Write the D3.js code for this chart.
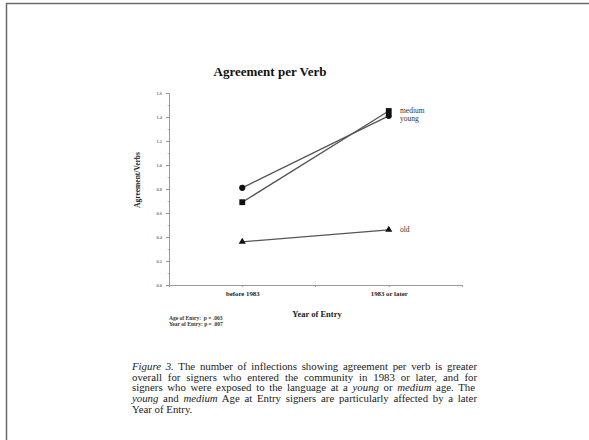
<!DOCTYPE html>
<html><head><meta charset="utf-8">
<script src="https://cdn.jsdelivr.net/npm/d3@7"></script>
<style>html,body{margin:0;padding:0;background:#fff;}svg{display:block;}</style>
</head><body>
<svg id="c" width="589" height="440"></svg>
<script>
const categories = ["before 1983", "1983 or later"];
const seriesNames = ["young", "medium", "old"];
const young = [0.81, 1.41];
const medium = [0.69, 1.45];
const old = [0.36, 0.46];
const yTicks = [0, 0.2, 0.4, 0.6, 0.8, 1.0, 1.2, 1.4, 1.6];
const statLines = ["Age of Entry:  p = .003", "Year of Entry: p = .007"];
const captionLines = [
  [["Figure 3.", true], [" The number of inflections showing agreement per verb is greater", false]],
  [["overall for signers who entered the community in 1983 or later, and for", false]],
  [["signers who were exposed to the language at a ", false], ["young", true], [" or ", false], ["medium", true], [" age.  The", false]],
  [["young", true], [" and ", false], ["medium", true], [" Age at Entry signers are particularly affected by a later", false]],
  [["Year of Entry.", false]]
];

const svg = d3.select("#c");
const serif = "'Liberation Serif', 'Times New Roman', serif";

// page border
svg.append("line").attr("x1", 6).attr("y1", 3.5).attr("x2", 589).attr("y2", 3.5).attr("stroke", "#6a6a6a").attr("stroke-width", 1.5);
svg.append("line").attr("x1", 6.5).attr("y1", 3).attr("x2", 6.5).attr("y2", 440).attr("stroke", "#6a6a6a").attr("stroke-width", 1.5);

const x = d3.scalePoint().domain(categories).range([169, 462]).padding(0.5);
const y = d3.scaleLinear().domain([0, 1.6]).range([285, 93]);

// axes
const ya = svg.append("g").attr("transform", "translate(169,0)")
  .call(d3.axisLeft(y).tickValues(yTicks).tickFormat(d3.format(".1f")).tickSize(3).tickPadding(4));
ya.select(".domain").attr("stroke", "#999");
ya.selectAll(".tick line").attr("stroke", "#999");
ya.selectAll(".tick text").attr("font-family", serif).attr("font-size", 4.5).attr("font-weight", "bold").attr("fill", "#777");
// minor ticks
svg.append("g").attr("transform", "translate(169,0)")
  .call(d3.axisLeft(y).tickValues(yTicks.slice(0, -1).map(v => v + 0.1)).tickFormat("").tickSize(1.5))
  .call(g => { g.select(".domain").remove(); g.selectAll("line").attr("stroke", "#bbb"); });

const xa = svg.append("g").attr("transform", "translate(0,285)")
  .call(d3.axisBottom(x).tickSize(2).tickPadding(4));
xa.select(".domain").attr("stroke", "#999");
xa.selectAll(".tick line").attr("stroke", "#999");
xa.selectAll(".tick text").attr("font-family", serif).attr("font-size", 6.8).attr("font-weight", "bold").attr("fill", "#222");
// between-category tick
svg.append("line").attr("x1", (x(categories[0]) + x(categories[1])) / 2).attr("x2", (x(categories[0]) + x(categories[1])) / 2)
  .attr("y1", 285).attr("y2", 287).attr("stroke", "#999");

// lines
const data = {young, medium, old};
const line = d3.line().x((d, i) => x(categories[i])).y(d => y(d));
seriesNames.forEach(s => {
  svg.append("path").datum(data[s]).attr("d", line).attr("fill", "none").attr("stroke", "#555").attr("stroke-width", 1.3);
});

// markers
const symbolOf = {young: d3.symbolCircle, medium: d3.symbolSquare, old: d3.symbolTriangle};
const sizeOf = {young: 30, medium: 34, old: 22};
seriesNames.forEach(s => {
  svg.selectAll(null).data(data[s]).enter().append("path")
    .attr("d", d3.symbol().type(symbolOf[s]).size(sizeOf[s]))
    .attr("transform", (d, i) => `translate(${x(categories[i])},${y(d)})`)
    .attr("fill", "#111");
});

// series labels
const labelY = {medium: y(medium[1]) + 1.5, young: y(young[1]) + 5.5, old: y(old[1]) + 2.5};
seriesNames.forEach(s => {
  svg.append("text").attr("x", 400).attr("y", labelY[s]).text(s)
    .attr("font-family", serif).attr("font-size", 7.5).attr("fill", "#333");
});

// title
svg.append("text").attr("x", 270).attr("y", 76).attr("text-anchor", "middle").text("Agreement per Verb")
  .attr("font-family", serif).attr("font-size", 13).attr("font-weight", "bold").attr("fill", "#111");

// y label
svg.append("text").attr("transform", "translate(140,180) rotate(-90)").attr("text-anchor", "middle").text("Agreement/Verbs")
  .attr("font-family", serif).attr("font-size", 7.5).attr("font-weight", "bold").attr("fill", "#222");

// x label
svg.append("text").attr("x", 317).attr("y", 317).attr("text-anchor", "middle").text("Year of Entry")
  .attr("font-family", serif).attr("font-size", 8.5).attr("font-weight", "bold").attr("fill", "#222");

// stats
statLines.forEach((t, i) => {
  svg.append("text").attr("x", 169).attr("y", 320 + i * 5.5).text(t).attr("xml:space", "preserve")
    .attr("font-family", serif).attr("font-size", 5.5).attr("font-weight", "bold").attr("fill", "#333");
});

// caption
const capX = 132, capW = 345;
captionLines.forEach((parts, i) => {
  const t = svg.append("text").attr("x", capX).attr("y", 370 + i * 10.7)
    .attr("font-family", serif).attr("font-size", 10.8).attr("fill", "#222");
  parts.forEach(([s, it]) => t.append("tspan").text(s).attr("font-style", it ? "italic" : "normal"));
  if (i < captionLines.length - 1) {
    const w = t.node().getComputedTextLength();
    const spaces = parts.map(p => p[0]).join("").split(" ").length - 1;
    t.attr("word-spacing", Math.max(0, (capW - w) / spaces));
  }
});
</script>
</body></html>
